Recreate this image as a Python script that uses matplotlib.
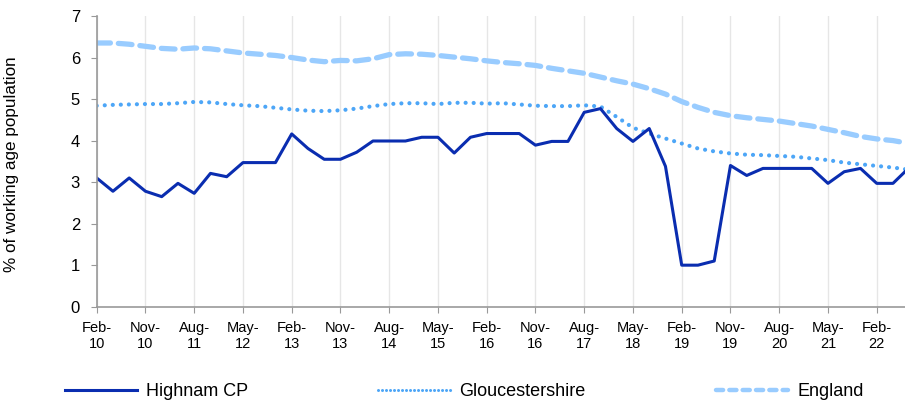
import matplotlib.pyplot as plt
from matplotlib.lines import Line2D
import numpy as np

plt.rcParams['font.family'] = ['Liberation Sans', 'DejaVu Sans']

months = ['Feb', 'May', 'Aug', 'Nov']
quarters = [f'{m}-{y:02d}' for y in range(10, 23) for m in months][:51]

highnam = [3.1, 2.78, 3.1, 2.78, 2.65, 2.97, 2.73, 3.21, 3.13, 3.47, 3.47, 3.47,
           4.16, 3.81, 3.55, 3.55, 3.72, 3.99, 3.99, 3.99, 4.08, 4.08, 3.7, 4.08,
           4.17, 4.17, 4.17, 3.89, 3.98, 3.98, 4.68, 4.77, 4.29, 3.98, 4.29, 3.38,
           1.0, 1.0, 1.1, 3.4, 3.16, 3.33, 3.33, 3.33, 3.33, 2.97, 3.25, 3.33,
           2.97, 2.97, 3.35]
glos = [4.84, 4.86, 4.87, 4.88, 4.88, 4.9, 4.93, 4.92, 4.88, 4.85, 4.83, 4.79,
        4.75, 4.72, 4.71, 4.73, 4.77, 4.83, 4.88, 4.9, 4.9, 4.88, 4.91, 4.91,
        4.89, 4.9, 4.87, 4.84, 4.83, 4.83, 4.85, 4.82, 4.57, 4.31, 4.17, 4.05,
        3.93, 3.81, 3.74, 3.69, 3.66, 3.65, 3.63, 3.61, 3.57, 3.53, 3.47, 3.43,
        3.39, 3.35, 3.3]
england = [6.35, 6.35, 6.32, 6.27, 6.22, 6.2, 6.23, 6.21, 6.16, 6.11, 6.08, 6.05,
           6.0, 5.94, 5.9, 5.93, 5.92, 5.97, 6.07, 6.09, 6.08, 6.05, 6.01, 5.97,
           5.92, 5.88, 5.85, 5.81, 5.74, 5.68, 5.62, 5.53, 5.44, 5.36, 5.25, 5.12,
           4.94, 4.8, 4.68, 4.6, 4.55, 4.51, 4.47, 4.41, 4.35, 4.27, 4.19, 4.1,
           4.04, 4.0, 3.93]

c_high, c_glos, c_eng = '#0A2DB0', '#4DA6F7', '#99CCFF'

x = np.arange(len(quarters))

fig = plt.figure(figsize=(9.05, 4.03), dpi=100)
ax = fig.add_axes([96.7 / 905, (403 - 306.7) / 403, 1 - 96.7 / 905, (306.7 - 16) / 403])

ax.plot(x, england, color=c_eng, lw=3.8, dashes=(2.6, 1.5), dash_capstyle='round')
ax.plot(x, glos, color=c_glos, lw=3.0, linestyle=(0, (0.01, 1.92)),
        dash_capstyle='round')
ax.plot(x, highnam, color=c_high, lw=2.2)

ax.set_xlim(0, 49.74)
ax.set_ylim(0, 7)
ax.set_yticks(range(8))
ticks = x[::3]
ax.set_xticks(ticks)
ax.set_xticklabels([quarters[i].replace('-', '-\n') for i in ticks], fontsize=10.5,
                   linespacing=1.2)
ax.tick_params(axis='y', labelsize=12, length=4, color='#999999', pad=8)
ax.tick_params(axis='x', length=4, color='#999999', pad=6)
ax.grid(axis='x', color='#E6E6E6', lw=1)
for s in ['top', 'right']:
    ax.spines[s].set_visible(False)
for s in ['left', 'bottom']:
    ax.spines[s].set_color('#999999')
    ax.spines[s].set_linewidth(1.2)

ax.set_ylabel('% of working age population', fontsize=12.3)
ax.yaxis.set_label_coords(-0.0967, 0.49)

handles = [Line2D([], [], color=c_high, lw=2.2),
           Line2D([], [], color=c_glos, lw=2.2, linestyle=(0, (0.01, 1.3)),
                  dash_capstyle='round'),
           Line2D([], [], color=c_eng, lw=3.2, dashes=(1.6, 1.4), dash_capstyle='round')]
fig.legend(handles, ['Highnam CP', 'Gloucestershire', 'England'], loc='center left',
           bbox_to_anchor=(65 / 905, 1 - 392 / 403), ncol=3, frameon=False,
           fontsize=13, handlelength=4.0, handletextpad=0.5, columnspacing=7.2,
           borderpad=0, borderaxespad=0)

fig.savefig('out.png', dpi=100)
